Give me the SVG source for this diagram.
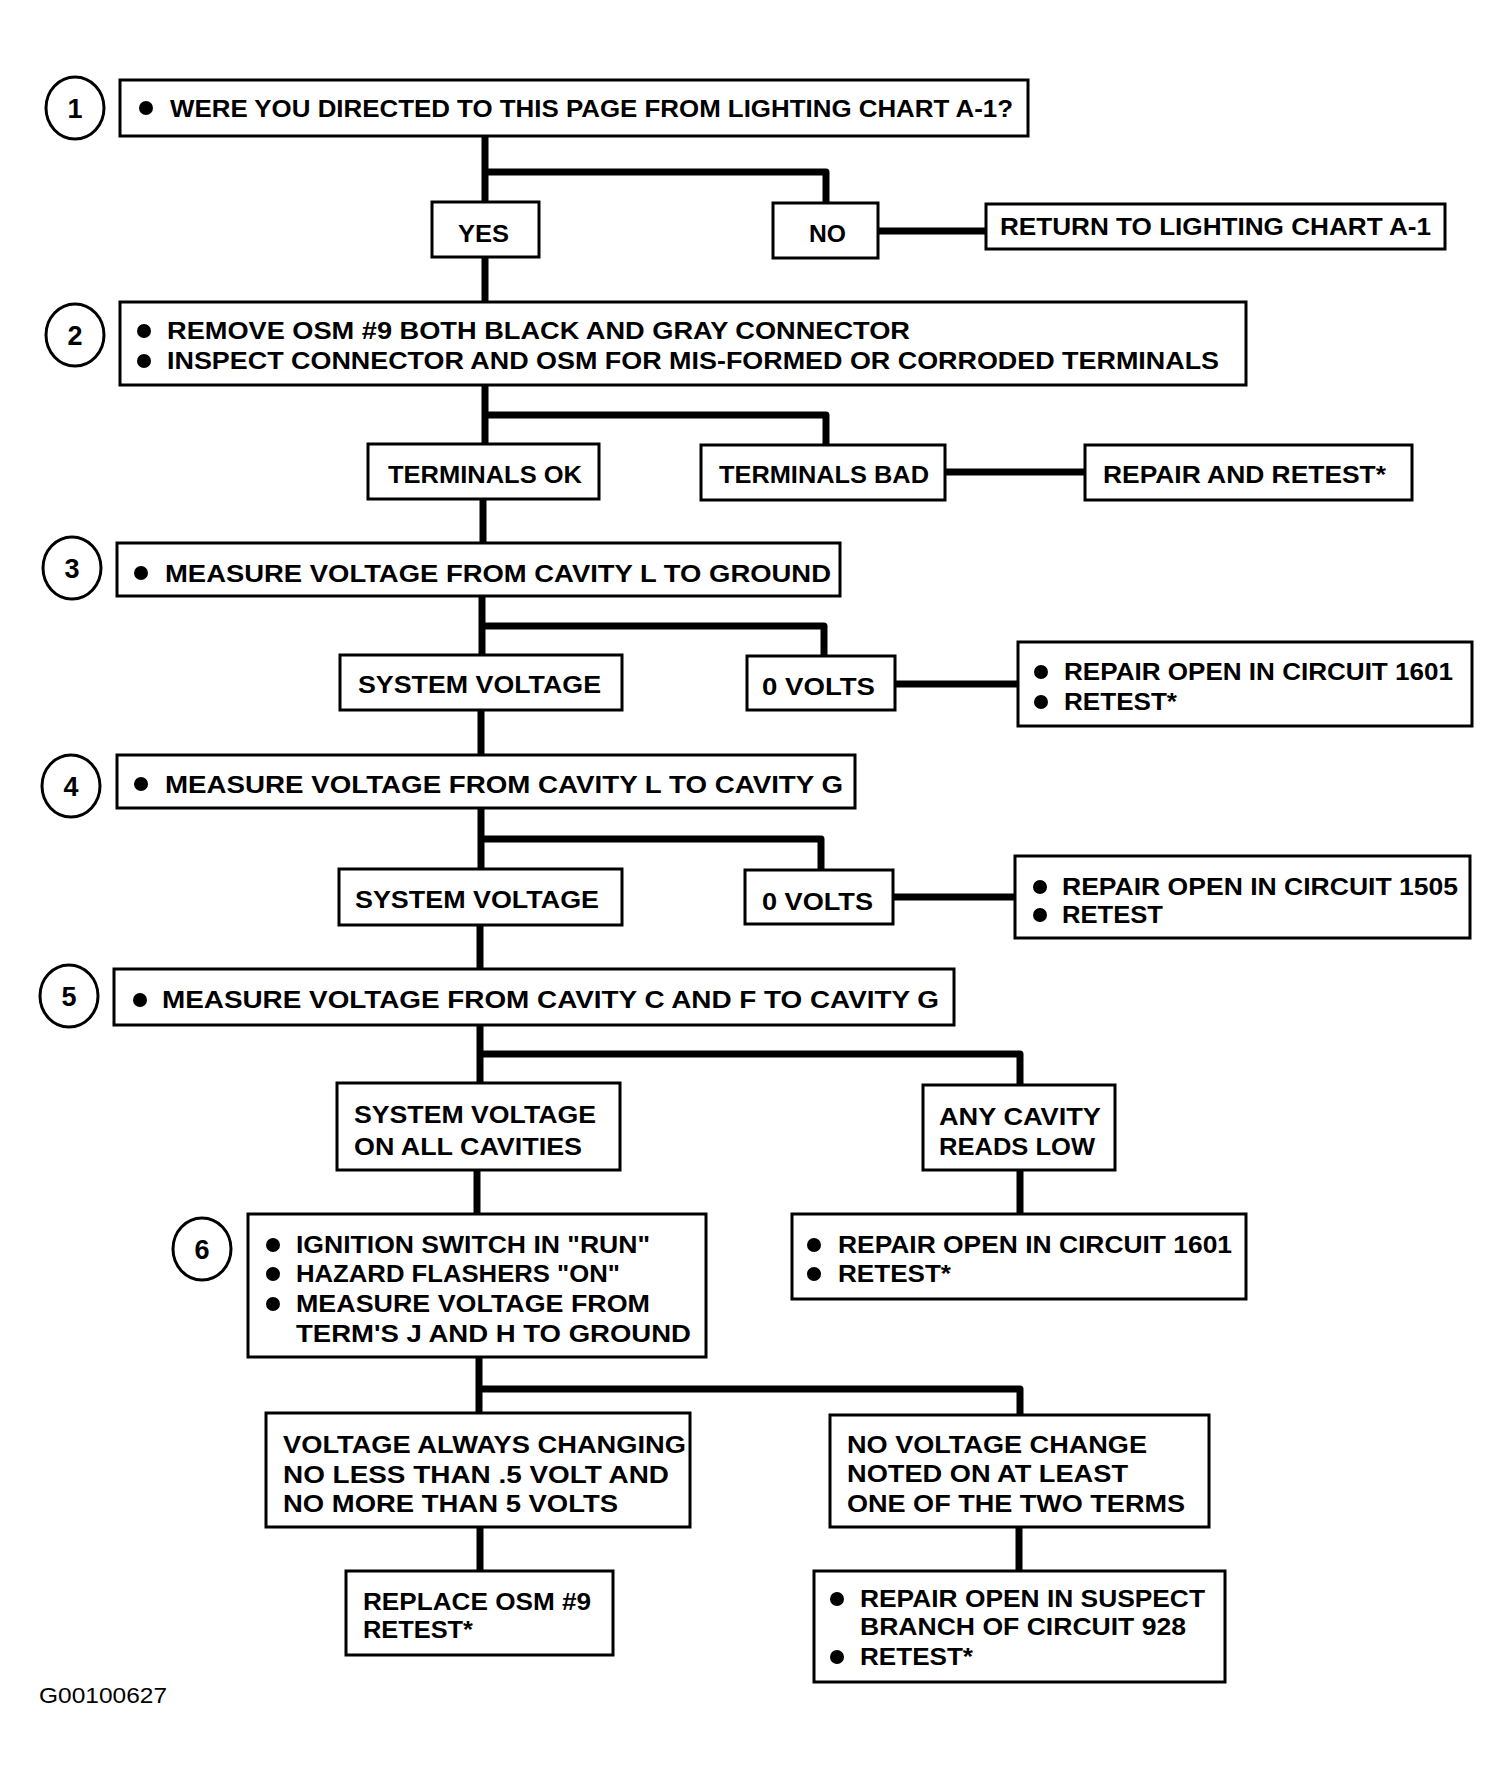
<svg xmlns="http://www.w3.org/2000/svg" width="1511" height="1778" viewBox="0 0 1511 1778">
<style>
.bg{fill:#fff}
.box{fill:#fff;stroke:#000;stroke-width:3}
.num{fill:#fff;stroke:#000;stroke-width:3}
.t{font-family:"Liberation Sans",Arial,sans-serif;font-weight:bold;font-size:24px;fill:#000}
.n{font-family:"Liberation Sans",Arial,sans-serif;font-weight:bold;font-size:27px;fill:#000;text-anchor:middle}
.code{font-family:"Liberation Sans",Arial,sans-serif;font-size:22px;fill:#000}
.dot{fill:#000}
#connectors path{fill:none;stroke:#000;stroke-width:7;stroke-linejoin:round;stroke-linecap:butt}
</style>
<rect class="bg" x="0" y="0" width="1511" height="1778"/>

<g id="connectors">
<path d="M485 135 V202"/>
<path d="M485 172 H826 V203"/>
<path d="M878 231 H986"/>
<path d="M485 257 V302"/>
<path d="M485 385 V444"/>
<path d="M485 415 H826 V445"/>
<path d="M945 472 H1085"/>
<path d="M483 499 V543"/>
<path d="M482 596 V655"/>
<path d="M482 626 H824 V656"/>
<path d="M895 684 H1018"/>
<path d="M481 710 V755"/>
<path d="M481 808 V869"/>
<path d="M481 839 H821 V870"/>
<path d="M893 897 H1015"/>
<path d="M480 925 V969"/>
<path d="M480 1025 V1083"/>
<path d="M480 1054 H1020 V1085"/>
<path d="M477 1170 V1214"/>
<path d="M1020 1170 V1214"/>
<path d="M479 1357 V1413"/>
<path d="M479 1389 H1020 V1415"/>
<path d="M480 1527 V1571"/>
<path d="M1019 1527 V1571"/>
</g>

<g id="step1">
<ellipse class="num" cx="75" cy="108" rx="29" ry="31"/>
<text class="n" x="75" y="118">1</text>
</g>
<g id="box1">
<rect class="box" x="120" y="80" width="908" height="56"/>
<circle class="dot" cx="146" cy="108" r="7"/>
<text class="t" x="170" y="117" textLength="843" lengthAdjust="spacingAndGlyphs">WERE YOU DIRECTED TO THIS PAGE FROM LIGHTING CHART A-1?</text>
</g>
<g id="yes1">
<rect class="box" x="432" y="202" width="107" height="55"/>
<text class="t" x="458" y="242" textLength="51" lengthAdjust="spacingAndGlyphs">YES</text>
</g>
<g id="no1">
<rect class="box" x="773" y="203" width="105" height="55"/>
<text class="t" x="809" y="242" textLength="37" lengthAdjust="spacingAndGlyphs">NO</text>
</g>
<g id="return">
<rect class="box" x="986" y="204" width="459" height="45"/>
<text class="t" x="1000" y="235" textLength="431" lengthAdjust="spacingAndGlyphs">RETURN TO LIGHTING CHART A-1</text>
</g>

<g id="step2">
<ellipse class="num" cx="75" cy="335" rx="29" ry="31"/>
<text class="n" x="75" y="345">2</text>
</g>
<g id="box2">
<rect class="box" x="120" y="302" width="1126" height="83"/>
<circle class="dot" cx="144" cy="331" r="7"/>
<text class="t" x="167" y="339" textLength="743" lengthAdjust="spacingAndGlyphs">REMOVE OSM #9 BOTH BLACK AND GRAY CONNECTOR</text>
<circle class="dot" cx="144" cy="361" r="7"/>
<text class="t" x="167" y="369" textLength="1052" lengthAdjust="spacingAndGlyphs">INSPECT CONNECTOR AND OSM FOR MIS-FORMED OR CORRODED TERMINALS</text>
</g>
<g id="termok">
<rect class="box" x="368" y="444" width="231" height="55"/>
<text class="t" x="388" y="483" textLength="194" lengthAdjust="spacingAndGlyphs">TERMINALS OK</text>
</g>
<g id="termbad">
<rect class="box" x="701" y="445" width="244" height="55"/>
<text class="t" x="719" y="483" textLength="210" lengthAdjust="spacingAndGlyphs">TERMINALS BAD</text>
</g>
<g id="repairretest">
<rect class="box" x="1085" y="445" width="327" height="55"/>
<text class="t" x="1103" y="483" textLength="283" lengthAdjust="spacingAndGlyphs">REPAIR AND RETEST*</text>
</g>

<g id="step3">
<ellipse class="num" cx="72" cy="568" rx="29" ry="31"/>
<text class="n" x="72" y="578">3</text>
</g>
<g id="box3">
<rect class="box" x="117" y="543" width="723" height="53"/>
<circle class="dot" cx="141" cy="573" r="7"/>
<text class="t" x="165" y="582" textLength="666" lengthAdjust="spacingAndGlyphs">MEASURE VOLTAGE FROM CAVITY L TO GROUND</text>
</g>
<g id="sysvolt1">
<rect class="box" x="340" y="655" width="282" height="55"/>
<text class="t" x="358" y="693" textLength="243" lengthAdjust="spacingAndGlyphs">SYSTEM VOLTAGE</text>
</g>
<g id="zerov1">
<rect class="box" x="747" y="656" width="148" height="54"/>
<text class="t" x="762" y="695" textLength="113" lengthAdjust="spacingAndGlyphs">0 VOLTS</text>
</g>
<g id="repair1601a">
<rect class="box" x="1018" y="642" width="454" height="84"/>
<circle class="dot" cx="1041" cy="672" r="7"/>
<text class="t" x="1064" y="680" textLength="389" lengthAdjust="spacingAndGlyphs">REPAIR OPEN IN CIRCUIT 1601</text>
<circle class="dot" cx="1041" cy="702" r="7"/>
<text class="t" x="1064" y="710" textLength="113" lengthAdjust="spacingAndGlyphs">RETEST*</text>
</g>

<g id="step4">
<ellipse class="num" cx="71" cy="786" rx="29" ry="31"/>
<text class="n" x="71" y="796">4</text>
</g>
<g id="box4">
<rect class="box" x="117" y="755" width="738" height="53"/>
<circle class="dot" cx="141" cy="784" r="7"/>
<text class="t" x="165" y="793" textLength="678" lengthAdjust="spacingAndGlyphs">MEASURE VOLTAGE FROM CAVITY L TO CAVITY G</text>
</g>
<g id="sysvolt2">
<rect class="box" x="339" y="869" width="283" height="56"/>
<text class="t" x="355" y="908" textLength="244" lengthAdjust="spacingAndGlyphs">SYSTEM VOLTAGE</text>
</g>
<g id="zerov2">
<rect class="box" x="745" y="870" width="148" height="54"/>
<text class="t" x="762" y="910" textLength="111" lengthAdjust="spacingAndGlyphs">0 VOLTS</text>
</g>
<g id="repair1505">
<rect class="box" x="1015" y="856" width="455" height="82"/>
<circle class="dot" cx="1040" cy="887" r="7"/>
<text class="t" x="1062" y="895" textLength="396" lengthAdjust="spacingAndGlyphs">REPAIR OPEN IN CIRCUIT 1505</text>
<circle class="dot" cx="1040" cy="915" r="7"/>
<text class="t" x="1062" y="923" textLength="101" lengthAdjust="spacingAndGlyphs">RETEST</text>
</g>

<g id="step5">
<ellipse class="num" cx="69" cy="996" rx="29" ry="31"/>
<text class="n" x="69" y="1006">5</text>
</g>
<g id="box5">
<rect class="box" x="114" y="969" width="840" height="56"/>
<circle class="dot" cx="140" cy="1000" r="7"/>
<text class="t" x="162" y="1008" textLength="777" lengthAdjust="spacingAndGlyphs">MEASURE VOLTAGE FROM CAVITY C AND F TO CAVITY G</text>
</g>
<g id="sysvoltall">
<rect class="box" x="337" y="1083" width="283" height="87"/>
<text class="t" x="354" y="1123" textLength="242" lengthAdjust="spacingAndGlyphs">SYSTEM VOLTAGE</text>
<text class="t" x="354" y="1155" textLength="228" lengthAdjust="spacingAndGlyphs">ON ALL CAVITIES</text>
</g>
<g id="anycavity">
<rect class="box" x="923" y="1085" width="192" height="85"/>
<text class="t" x="939" y="1125" textLength="162" lengthAdjust="spacingAndGlyphs">ANY CAVITY</text>
<text class="t" x="939" y="1155" textLength="156" lengthAdjust="spacingAndGlyphs">READS LOW</text>
</g>
<g id="repair1601b">
<rect class="box" x="792" y="1214" width="454" height="85"/>
<circle class="dot" cx="814" cy="1245" r="7"/>
<text class="t" x="838" y="1253" textLength="394" lengthAdjust="spacingAndGlyphs">REPAIR OPEN IN CIRCUIT 1601</text>
<circle class="dot" cx="814" cy="1274" r="7"/>
<text class="t" x="838" y="1282" textLength="113" lengthAdjust="spacingAndGlyphs">RETEST*</text>
</g>

<g id="step6">
<ellipse class="num" cx="202" cy="1249" rx="29" ry="31"/>
<text class="n" x="202" y="1259">6</text>
</g>
<g id="box6">
<rect class="box" x="248" y="1214" width="458" height="143"/>
<circle class="dot" cx="273" cy="1245" r="7"/>
<text class="t" x="296" y="1253" textLength="354" lengthAdjust="spacingAndGlyphs">IGNITION SWITCH IN "RUN"</text>
<circle class="dot" cx="273" cy="1274" r="7"/>
<text class="t" x="296" y="1282" textLength="324" lengthAdjust="spacingAndGlyphs">HAZARD FLASHERS "ON"</text>
<circle class="dot" cx="273" cy="1304" r="7"/>
<text class="t" x="296" y="1312" textLength="354" lengthAdjust="spacingAndGlyphs">MEASURE VOLTAGE FROM</text>
<text class="t" x="296" y="1342" textLength="395" lengthAdjust="spacingAndGlyphs">TERM'S J AND H TO GROUND</text>
</g>
<g id="alwayschanging">
<rect class="box" x="266" y="1413" width="424" height="114"/>
<text class="t" x="283" y="1453" textLength="403" lengthAdjust="spacingAndGlyphs">VOLTAGE ALWAYS CHANGING</text>
<text class="t" x="283" y="1483" textLength="386" lengthAdjust="spacingAndGlyphs">NO LESS THAN .5 VOLT AND</text>
<text class="t" x="283" y="1512" textLength="335" lengthAdjust="spacingAndGlyphs">NO MORE THAN 5 VOLTS</text>
</g>
<g id="nochange">
<rect class="box" x="830" y="1415" width="379" height="112"/>
<text class="t" x="847" y="1453" textLength="300" lengthAdjust="spacingAndGlyphs">NO VOLTAGE CHANGE</text>
<text class="t" x="847" y="1482" textLength="281" lengthAdjust="spacingAndGlyphs">NOTED ON AT LEAST</text>
<text class="t" x="847" y="1512" textLength="338" lengthAdjust="spacingAndGlyphs">ONE OF THE TWO TERMS</text>
</g>
<g id="replaceosm">
<rect class="box" x="346" y="1571" width="267" height="84"/>
<text class="t" x="363" y="1610" textLength="228" lengthAdjust="spacingAndGlyphs">REPLACE OSM #9</text>
<text class="t" x="363" y="1638" textLength="110" lengthAdjust="spacingAndGlyphs">RETEST*</text>
</g>
<g id="repairsuspect">
<rect class="box" x="814" y="1571" width="411" height="111"/>
<circle class="dot" cx="837" cy="1599" r="7"/>
<text class="t" x="860" y="1607" textLength="345" lengthAdjust="spacingAndGlyphs">REPAIR OPEN IN SUSPECT</text>
<text class="t" x="860" y="1635" textLength="326" lengthAdjust="spacingAndGlyphs">BRANCH OF CIRCUIT 928</text>
<circle class="dot" cx="837" cy="1657" r="7"/>
<text class="t" x="860" y="1665" textLength="113" lengthAdjust="spacingAndGlyphs">RETEST*</text>
</g>

<g id="figcode">
<text class="code" x="39" y="1703" textLength="128" lengthAdjust="spacingAndGlyphs">G00100627</text>
</g>
</svg>
